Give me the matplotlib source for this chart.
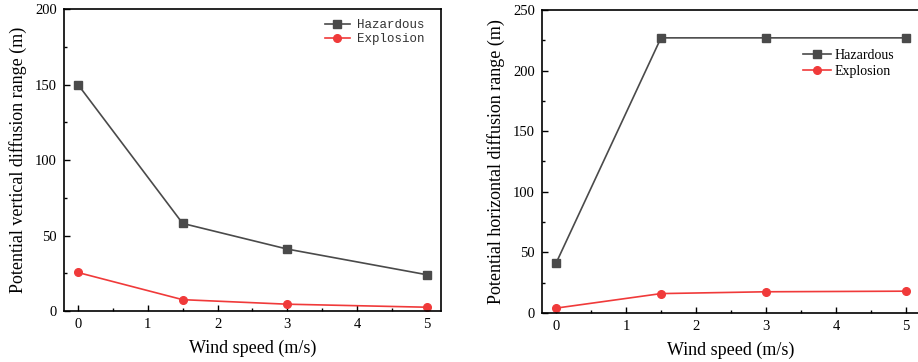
import numpy as np
import matplotlib
matplotlib.use('Agg')
import matplotlib.pyplot as plt
from matplotlib.ticker import MultipleLocator

plt.rcParams['font.family'] = 'Liberation Serif'

wind = [0, 1.5, 3, 5]

# vertical diffusion range (m)
vert_hazard = [150, 58, 41, 24]
vert_explosion = [25.5, 7.5, 4.5, 2.5]

# horizontal diffusion range (m)
hor_hazard = [41, 227, 227, 227]
hor_explosion = [4, 16, 17.5, 18]

c_haz = '#4a4a4a'
c_exp = '#f03a3a'

fig = plt.figure(figsize=(9.18, 3.62), dpi=100)
ax1 = fig.add_axes([0.0697, 0.1409, 0.4107, 0.8341])
ax2 = fig.add_axes([0.5904, 0.1354, 0.4118, 0.8370])


def style_axes(ax, ymax, ystep):
    ax.set_xlim(-0.2, 5.2)
    ax.set_ylim(0, ymax)
    ax.xaxis.set_major_locator(MultipleLocator(1))
    ax.xaxis.set_minor_locator(MultipleLocator(0.5))
    ax.yaxis.set_major_locator(MultipleLocator(ystep))
    ax.yaxis.set_minor_locator(MultipleLocator(ystep / 2))
    ax.tick_params(which='major', direction='in', length=4, width=1,
                   labelsize=10.5, pad=5)
    ax.tick_params(which='minor', direction='in', length=2.5, width=1)
    for s in ax.spines.values():
        s.set_linewidth(1.2)
    ax.set_xlabel('Wind speed (m/s)', fontsize=13, labelpad=6)


ax1.plot(wind, vert_hazard, '-s', color=c_haz, lw=1.2, ms=5.5, label='Hazardous')
ax1.plot(wind, vert_explosion, '-o', color=c_exp, lw=1.2, ms=5.5, label='Explosion')
style_axes(ax1, 200, 50)
ax1.set_ylabel('Potential vertical diffusion range (m)', fontsize=13, labelpad=6)
leg1 = ax1.legend(loc='upper left', bbox_to_anchor=(0.692, 0.966), frameon=False,
                  prop={'family': 'Liberation Mono', 'size': 9},
                  handlelength=2.0, borderaxespad=0, borderpad=0,
                  labelspacing=0.15, handletextpad=0.55)
for t in leg1.get_texts():
    t.set_color('#333333')

ax2.plot(wind, hor_hazard, '-s', color=c_haz, lw=1.2, ms=5.5, label='Hazardous')
ax2.plot(wind, hor_explosion, '-o', color=c_exp, lw=1.2, ms=5.5, label='Explosion')
style_axes(ax2, 250, 50)
ax2.set_ylabel('Potential horizontal diffusion range (m)', fontsize=13, labelpad=6)
ax2.legend(loc='upper left', bbox_to_anchor=(0.69, 0.872), frameon=False,
           fontsize=10, handlelength=2.0, borderaxespad=0, borderpad=0,
           labelspacing=0.2, handletextpad=0.3)

fig.savefig('out.png', dpi=100)
